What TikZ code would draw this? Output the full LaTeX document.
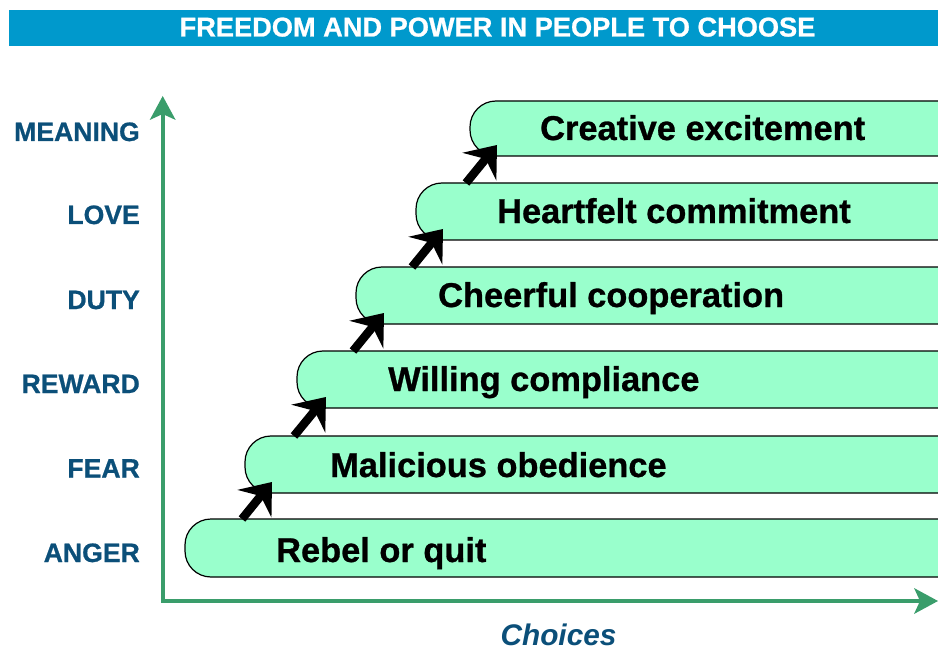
\documentclass[tikz,border=0pt]{standalone}
\usepackage{fontspec}
\setmainfont[BoldFeatures={FakeBold=0.8}]{Liberation Sans}
\usetikzlibrary{arrows.meta}
\definecolor{titlebg}{RGB}{0,153,204}
\definecolor{mint}{RGB}{153,255,204}
\definecolor{axisgreen}{RGB}{58,157,107}
\definecolor{labelblue}{RGB}{11,79,121}
\begin{document}
\begin{tikzpicture}[x=1pt,y=-1pt,
  barshape/.style={fill=mint, draw=black, line width=1.2pt, rounded corners=26pt},
  bartext/.style={anchor=base west, inner sep=0pt, font=\fontsize{34.4}{40}\selectfont\bfseries},
  levellabel/.style={anchor=base east, inner sep=0pt, text=labelblue, font=\fontsize{26.6}{30}\selectfont\bfseries},
  steparrow/.style={line width=8.5pt, -{Stealth[length=28pt,width=44pt,inset=10pt,line width=0pt]}},
  axisline/.style={draw=axisgreen, line width=4pt, miter limit=2,
    {Stealth[length=24pt,width=26pt,inset=6pt,line width=0pt]}-{Stealth[length=24pt,width=26pt,inset=6pt,line width=0pt]}}]
\useasboundingbox (0,0) rectangle (938,650);
% title
\fill[titlebg] (9,10) rectangle (938,46);
\node[anchor=base, inner sep=0pt, text=white, font=\fontsize{27.2}{30}\selectfont\bfseries] (title) at (497.5,36.5) {FREEDOM AND POWER IN PEOPLE TO CHOOSE};
% axes
\coordinate (origin) at (162.7,601);
\coordinate (ytip) at (162.7,96);
\coordinate (xtip) at (938,601);
\draw[axisline] (ytip) -- (origin) -- (xtip);
% bars
\foreach \l/\t/\b in {185/519/577, 245/436/493, 297/351/408, 356/267/324, 416/183/240, 470/101/156}
  \path[barshape] (945,\t) -- (\l,\t) -- (\l,\b) -- (945,\b);
% arrows
\coordinate (a1) at (242,519); \coordinate (b1) at (272,482);
\coordinate (a2) at (294,436); \coordinate (b2) at (326,397);
\coordinate (a3) at (353,351); \coordinate (b3) at (384,313);
\coordinate (a4) at (412,267); \coordinate (b4) at (443,229);
\coordinate (a5) at (466,183); \coordinate (b5) at (497,145);
\foreach \i in {1,...,5} \draw[steparrow] (a\i) -- (b\i);
% bar texts
\node[bartext] (rebel) at (276,562) {Rebel or quit};
\node[bartext] (malicious) at (330,477) {Malicious obedience};
\node[bartext] (willing) at (388,391) {Willing compliance};
\node[bartext] (cheerful) at (438,307) {Cheerful cooperation};
\node[bartext] (heartfelt) at (497,223) {Heartfelt commitment};
\node[bartext] (creative) at (540,140) {Creative excitement};
% level labels
\node[levellabel] (meaning) at (140,141) {MEANING};
\node[levellabel] (love) at (140,224) {LOVE};
\node[levellabel] (duty) at (140,309) {DUTY};
\node[levellabel] (reward) at (140,393) {REWARD};
\node[levellabel] (fear) at (140,477.5) {FEAR};
\node[levellabel] (anger) at (140,562) {ANGER};
% axis label
\node[anchor=base, inner sep=0pt, text=labelblue, font=\fontsize{29.8}{34}\selectfont\bfseries\itshape] (choices) at (558.5,645) {Choices};
\end{tikzpicture}
\end{document}
